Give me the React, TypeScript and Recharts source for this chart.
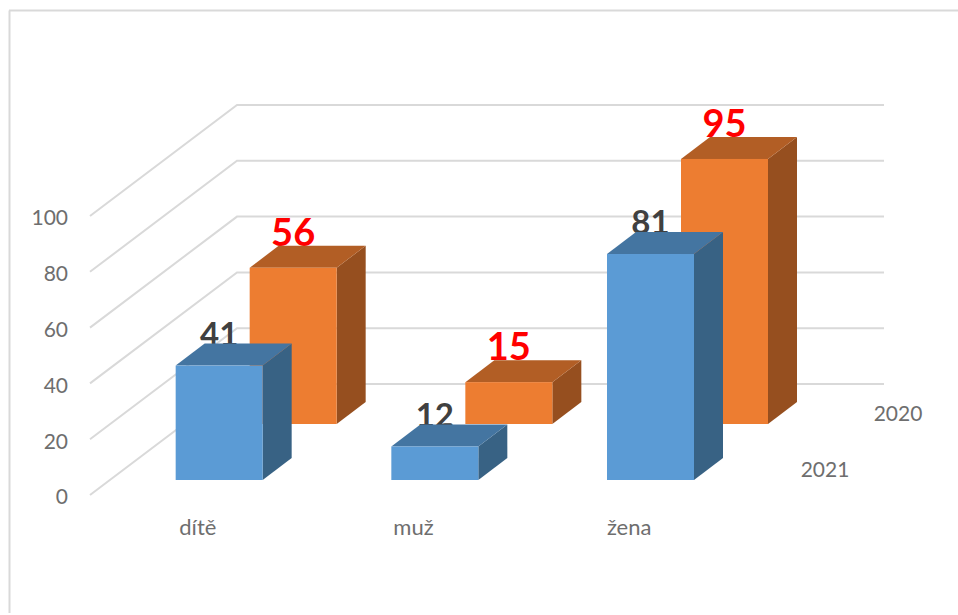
import { Bar, BarChart, CartesianGrid, XAxis, YAxis } from "recharts"

const categories = ["dítě", "muž", "žena"]
const values2020 = [56, 15, 95]
const values2021 = [41, 12, 81]
const yTicks = [0, 20, 40, 60, 80, 100]

const data = categories.map((name, i) => ({
  name,
  y2020: values2020[i],
  y2021: values2021[i],
}))

const FONT = "Lato, sans-serif"
const GRID = "#d9d9d9"
const TEXT = "#6e6e6e"

// wall depth of the fake 3D box
const WALL_DX = 147
const WALL_DY = 111
// top/side face depth of a bar
const DEPTH_X = 29
const DEPTH_Y = 22

function Box3D(props: any) {
  const { x, y, width, height, value, shiftX, shiftY, front, top, side, labelColor, labelSize, labelGap } = props
  const l = x + shiftX
  const t = y + shiftY
  const r = l + width
  const b = t + height
  return (
    <g>
      <text
        x={l + width / 2}
        y={t - labelGap}
        textAnchor="middle"
        fontFamily={FONT}
        fontWeight={700}
        fontSize={labelSize}
        fill={labelColor}
      >
        {value}
      </text>
      <polygon fill={side} points={`${r},${t} ${r + DEPTH_X},${t - DEPTH_Y} ${r + DEPTH_X},${b - DEPTH_Y} ${r},${b}`} />
      <polygon fill={top} points={`${l},${t} ${l + DEPTH_X},${t - DEPTH_Y} ${r + DEPTH_X},${t - DEPTH_Y} ${r},${t}`} />
      <rect x={l} y={t} width={width} height={height} fill={front} />
    </g>
  )
}

// one grid line runs along the side wall, then along the back wall
function WallLine(props: any) {
  const { x1, x2, y1 } = props
  return (
    <polyline
      fill="none"
      stroke={GRID}
      strokeWidth={2}
      points={`${x1},${y1} ${x1 + WALL_DX},${y1 - WALL_DY} ${x2 + WALL_DX},${y1 - WALL_DY}`}
    />
  )
}

export default function App() {
  return (
    <div style={{ position: "absolute", left: 0, top: 0, width: 958, height: 615, background: "#fff" }}>
      <BarChart
        width={958}
        height={615}
        data={data}
        barSize={87}
        barGap={-87}
        margin={{ top: 216, right: 221, bottom: 90, left: 30 }}
      >
        <line x1={9.5} y1={10.5} x2={9.5} y2={613} stroke={GRID} strokeWidth={2} />
        <line x1={9} y1={10.5} x2={958} y2={10.5} stroke={GRID} strokeWidth={2} />
        <CartesianGrid vertical={false} horizontal={(p: any) => <WallLine key={p.key ?? p.y1} {...p} />} />
        <XAxis
          dataKey="name"
          height={30}
          axisLine={false}
          tickLine={false}
          tickSize={0}
          tickMargin={24}
          tick={{ fontFamily: FONT, fontSize: 22, fill: TEXT }}
        />
        <YAxis
          width={60}
          domain={[0, 100]}
          ticks={yTicks}
          axisLine={false}
          tickLine={false}
          tickSize={0}
          tickMargin={22}
          tick={{ fontFamily: FONT, fontSize: 21, fill: TEXT, dy: 2 }}
        />
        <Bar
          dataKey="y2020"
          isAnimationActive={false}
          shape={(p: any) => (
            <Box3D
              {...p}
              shiftX={95.67}
              shiftY={-71}
              front="#ED7D31"
              top="#B25E25"
              side="#964F1F"
              labelColor="#FF0000"
              labelSize={38}
              labelGap={22}
            />
          )}
        />
        <Bar
          dataKey="y2021"
          isAnimationActive={false}
          shape={(p: any) => (
            <Box3D
              {...p}
              shiftX={21.67}
              shiftY={-15}
              front="#5B9BD5"
              top="#4475A1"
              side="#386284"
              labelColor="#404040"
              labelSize={33}
              labelGap={20}
            />
          )}
        />
        <text x={898} y={421} textAnchor="middle" fontFamily={FONT} fontSize={21} fill={TEXT}>
          2020
        </text>
        <text x={825} y={477} textAnchor="middle" fontFamily={FONT} fontSize={21} fill={TEXT}>
          2021
        </text>
      </BarChart>
    </div>
  )
}
